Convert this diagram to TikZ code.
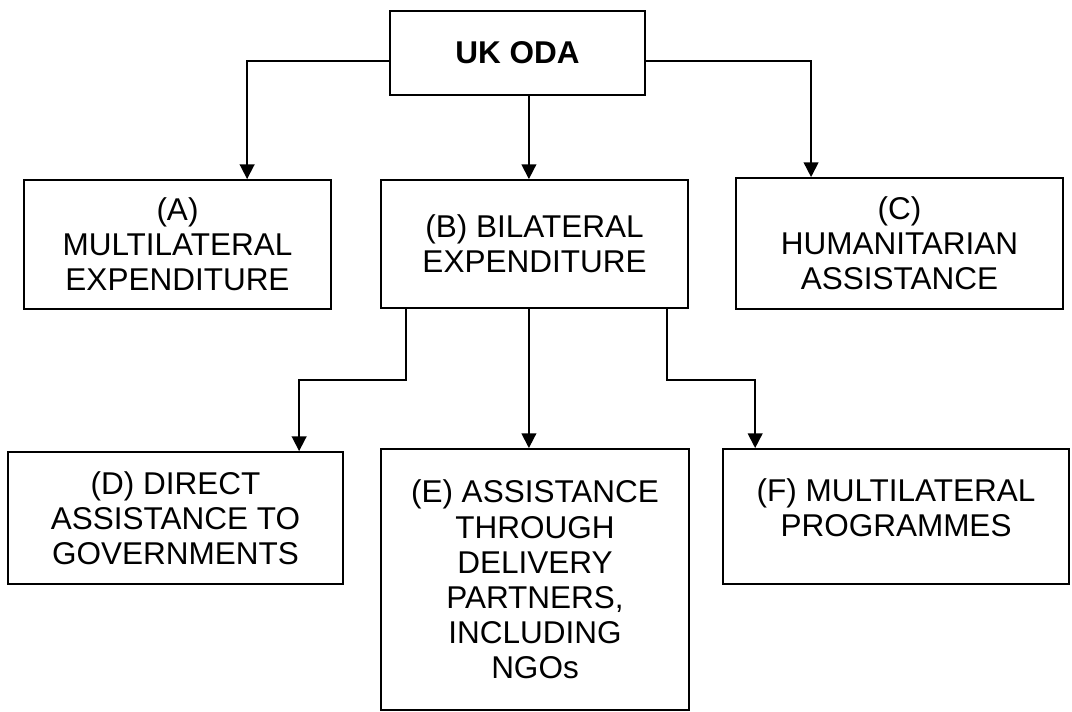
\documentclass[tikz,border=0pt]{standalone}
\usepackage{fontspec}
\setmainfont{Liberation Sans}
\usetikzlibrary{arrows.meta}

\begin{document}
\begin{tikzpicture}[x=0.025cm, y=-0.025cm,
	box/.style={draw, line width=1.3pt, align=center, inner sep=0pt, font=\fontsize{22.4}{25}\selectfont},
	arr/.style={line width=1.3pt, -{Triangle[length=3.7mm, width=3.7mm]}}]
			\useasboundingbox (0,0) rectangle (1072,711);
			% top level
			\node[box, minimum width=6.375cm, minimum height=2.1cm, font=\fontsize{22.4}{25}\selectfont\bfseries] (oda) at (517.5,53) {UK ODA};
			\node[box, minimum width=7.675cm, minimum height=3.225cm] (a) at (177.5,244.5) {(A)\\MULTILATERAL\\EXPENDITURE};
			\node[box, minimum width=7.675cm, minimum height=3.2cm] (b) at (534.5,244) {(B) BILATERAL\\EXPENDITURE};
			\node[box, minimum width=8.175cm, minimum height=3.275cm] (c) at (899.5,243.5) {(C)\\HUMANITARIAN\\ASSISTANCE};
			% bilateral split
			\node[box, minimum width=8.375cm, minimum height=3.3cm] (d) at (175.5,518) {(D) DIRECT\\ASSISTANCE TO\\GOVERNMENTS};
			\node[box, minimum width=7.7cm, minimum height=6.525cm] (e) at (535,579.5) {(E) ASSISTANCE\\THROUGH\\DELIVERY\\PARTNERS,\\INCLUDING\\NGOs};
			\node[box, minimum width=8.65cm, minimum height=3.375cm] (f) at (896,516.5) {(F) MULTILATERAL\\PROGRAMMES\\[-12pt]};
			\draw[arr] ([yshift=-2mm]oda.west) -| ([xshift=17.4mm]a.north);
			\draw[arr] ([xshift=-1.4mm]b.north |- oda.south) -- ([xshift=-1.4mm]b.north);
			\draw[arr] ([yshift=-2mm]oda.east) -| ([xshift=-22.1mm]c.north);
			\draw[arr] ([xshift=-32.1mm]b.south) -- ++(0,71) -| ([xshift=30.9mm]d.north);
			\draw[arr] ([xshift=-1.4mm]b.south) -- ([xshift=-1.4mm]b.south |- e.north);
			\draw[arr] ([xshift=33.1mm]b.south) -- ++(0,71) -| ([xshift=-35.2mm]f.north);
			\end{tikzpicture}
\end{document}
